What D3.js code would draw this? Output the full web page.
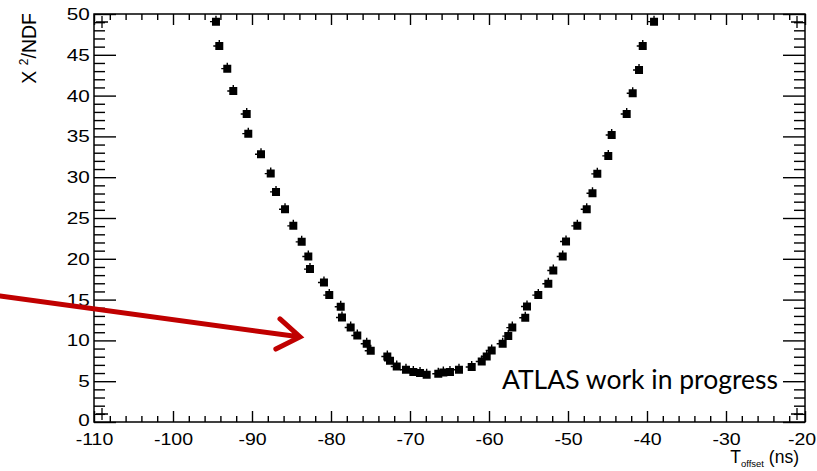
<!DOCTYPE html>
<html>
<head>
<meta charset="utf-8">
<script src="https://cdn.jsdelivr.net/npm/d3@7"></script>
<style>
  html, body { margin: 0; padding: 0; background: #fff; }
  svg { display: block; }
  .tick text { font-family: "Liberation Sans", Arial, Helvetica, sans-serif; font-size: 17px; fill: #000; }
  .tick line { stroke: #000; stroke-width: 1.4; }
</style>
</head>
<body>
<svg id="chart" width="817" height="471"></svg>
<script>
// Chi-square per degree of freedom versus timing offset scan
const tOffset = [
  -94.56, -94.14, -93.13, -92.37, -90.67, -90.47, -88.86, -87.63, -86.96, -85.82,
  -84.77, -83.71, -82.87, -82.66, -80.89, -80.22, -78.77, -78.61, -77.51, -76.67,
  -75.48, -74.97, -72.87, -72.53, -71.68, -70.51, -69.58, -68.73, -67.89,
  -66.42, -65.78, -64.94, -63.80, -62.19, -60.92, -60.29, -59.66, -58.27, -57.56,
  -57.05, -55.41, -55.19, -53.76, -52.49, -51.86, -50.67, -50.25, -48.82, -47.63,
  -46.90, -46.29, -44.90, -44.47, -42.57, -41.81, -41.01, -40.54, -39.11
];
const chi2ndf = [
  49.06, 46.08, 43.30, 40.57, 37.75, 35.34, 32.82, 30.44, 28.20, 26.08,
  24.04, 22.08, 20.28, 18.74, 17.10, 15.55, 14.12, 12.81, 11.58, 10.60,
  9.59, 8.73, 8.03, 7.51, 6.81, 6.40, 6.12, 6.00, 5.79,
  5.91, 6.07, 6.12, 6.40, 6.74, 7.42, 8.03, 8.77, 9.59, 10.53,
  11.57, 12.77, 14.16, 15.55, 16.94, 18.56, 20.28, 22.12, 24.04, 26.08,
  28.04, 30.41, 32.61, 35.18, 37.75, 40.29, 43.14, 46.08, 49.06
];

const xMajorTicks = [-110, -100, -90, -80, -70, -60, -50, -40, -30, -20];
const yMajorTicks = [0, 5, 10, 15, 20, 25, 30, 35, 40, 45, 50];
const xMinorTicks = d3.range(-110, -19, 2).filter(v => v % 10 !== 0);
const yMinorTicks = d3.range(0, 51, 1).filter(v => v % 5 !== 0);

const annotation = "ATLAS work in progress";

const svg = d3.select("#chart");
const padL = 94, padR = 805, padT = 14, padB = 422;

const x = d3.scaleLinear().domain([-110, -20]).range([padL, padR]);
const y = d3.scaleLinear().domain([0, 50]).range([padB, padT]);

// Plain hyphen-minus labels
const fmt = d => String(d);
// Labels are drawn slightly widened
const widen = "scale(1.15,1)";

// Bottom axis with labels, ticks pointing inward
const gB = svg.append("g").attr("transform", `translate(0,${padB})`);
gB.call(d3.axisBottom(x).tickValues(xMajorTicks).tickSize(-11).tickSizeOuter(0).tickPadding(11).tickFormat(fmt));
gB.selectAll(".tick text").attr("transform", widen);
// keep the last label inside the page
gB.selectAll(".tick text").filter(d => d === -20).attr("x", -3);
gB.append("g").call(d3.axisBottom(x).tickValues(xMinorTicks).tickSize(-6).tickSizeOuter(0).tickFormat(""));

// Top mirror axis
const gT = svg.append("g").attr("transform", `translate(0,${padT})`);
gT.call(d3.axisTop(x).tickValues(xMajorTicks).tickSize(-11).tickSizeOuter(0).tickFormat(""));
gT.append("g").call(d3.axisTop(x).tickValues(xMinorTicks).tickSize(-6).tickSizeOuter(0).tickFormat(""));

// Left axis with labels
const gL = svg.append("g").attr("transform", `translate(${padL},0)`);
gL.call(d3.axisLeft(y).tickValues(yMajorTicks).tickSize(-22).tickSizeOuter(0).tickPadding(3.5).tickFormat(fmt));
gL.selectAll(".tick text").attr("transform", "scale(1.22,1)");
gL.selectAll(".tick text").filter(d => d === 0).attr("dy", "0.2em");
gL.append("g").call(d3.axisLeft(y).tickValues(yMinorTicks).tickSize(-11).tickSizeOuter(0).tickFormat(""));

// Right mirror axis
const gR = svg.append("g").attr("transform", `translate(${padR},0)`);
gR.call(d3.axisRight(y).tickValues(yMajorTicks).tickSize(-22).tickSizeOuter(0).tickFormat(""));
gR.append("g").call(d3.axisRight(y).tickValues(yMinorTicks).tickSize(-11).tickSizeOuter(0).tickFormat(""));

svg.selectAll(".domain").remove();

// Frame
svg.append("rect")
  .attr("x", padL).attr("y", padT)
  .attr("width", padR - padL).attr("height", padB - padT)
  .attr("fill", "none").attr("stroke", "#000").attr("stroke-width", 1.5);

// Small corner crosses
const cornerMarks = [[padL + 8, padT + 8], [padR - 8, padT + 8], [padL + 8, padB - 8], [padR - 8, padB - 8]];
svg.append("g").selectAll("path").data(cornerMarks).join("path")
  .attr("d", d => `M${d[0] - 6},${d[1]}H${d[0] + 6}M${d[0]},${d[1] - 6}V${d[1] + 6}`)
  .attr("stroke", "#000").attr("stroke-width", 1.3).attr("fill", "none");

// Markers
const points = tOffset.map((t, i) => ({ t, c: chi2ndf[i] }));
const markerPath = "M-4,-4H4V4H-4Z M-6,-0.7H-4V0.7H-6Z M-0.7,-6H0.7V-4H-0.7Z";
svg.append("g").selectAll("path").data(points).join("path")
  .attr("transform", d => `translate(${x(d.t)},${y(d.c)})`)
  .attr("d", markerPath)
  .attr("fill", "#000");

// Axis titles
const yTitle = svg.append("text")
  .attr("transform", `translate(36,${padT - 1}) rotate(-90)`)
  .attr("text-anchor", "end")
  .style("font-family", '"Liberation Sans", Arial, sans-serif')
  .style("font-size", "19.5px");
yTitle.append("tspan").text("X ");
yTitle.append("tspan").attr("font-size", "12px").attr("dy", -8).text("2");
yTitle.append("tspan").attr("dy", 8).text("/NDF");

const xTitle = svg.append("text")
  .attr("x", 799).attr("y", 463)
  .attr("text-anchor", "end")
  .style("font-family", '"Liberation Sans", Arial, sans-serif')
  .style("font-size", "17.5px");
xTitle.append("tspan").text("T");
xTitle.append("tspan").attr("font-size", "9.5px").attr("dy", 4).text("offset");
xTitle.append("tspan").attr("dy", -4).text(" (ns)");

// Annotation
svg.append("text")
  .attr("x", 778).attr("y", 389)
  .attr("text-anchor", "end")
  .style("font-family", "Lato, 'Open Sans', sans-serif")
  .style("font-size", "26.5px")
  .attr("fill", "#000")
  .text(annotation);

// Red arrow pointing at the curve
const arrowStart = [0, 296], arrowTip = [300, 337];
const ang = Math.atan2(arrowTip[1] - arrowStart[1], arrowTip[0] - arrowStart[0]);
const headLen = 27, headSpread = 0.6;
const a1 = [arrowTip[0] - headLen * Math.cos(ang - headSpread), arrowTip[1] - headLen * Math.sin(ang - headSpread)];
const a2 = [arrowTip[0] - headLen * Math.cos(ang + headSpread), arrowTip[1] - headLen * Math.sin(ang + headSpread)];
svg.append("path")
  .attr("d", `M${arrowStart}L${arrowTip[0] - 3},${arrowTip[1] - 0.4}M${a1}L${arrowTip}L${a2}`)
  .attr("fill", "none").attr("stroke", "#C00000").attr("stroke-width", 5)
  .attr("stroke-linecap", "round").attr("stroke-linejoin", "miter");
</script>
</body>
</html>
